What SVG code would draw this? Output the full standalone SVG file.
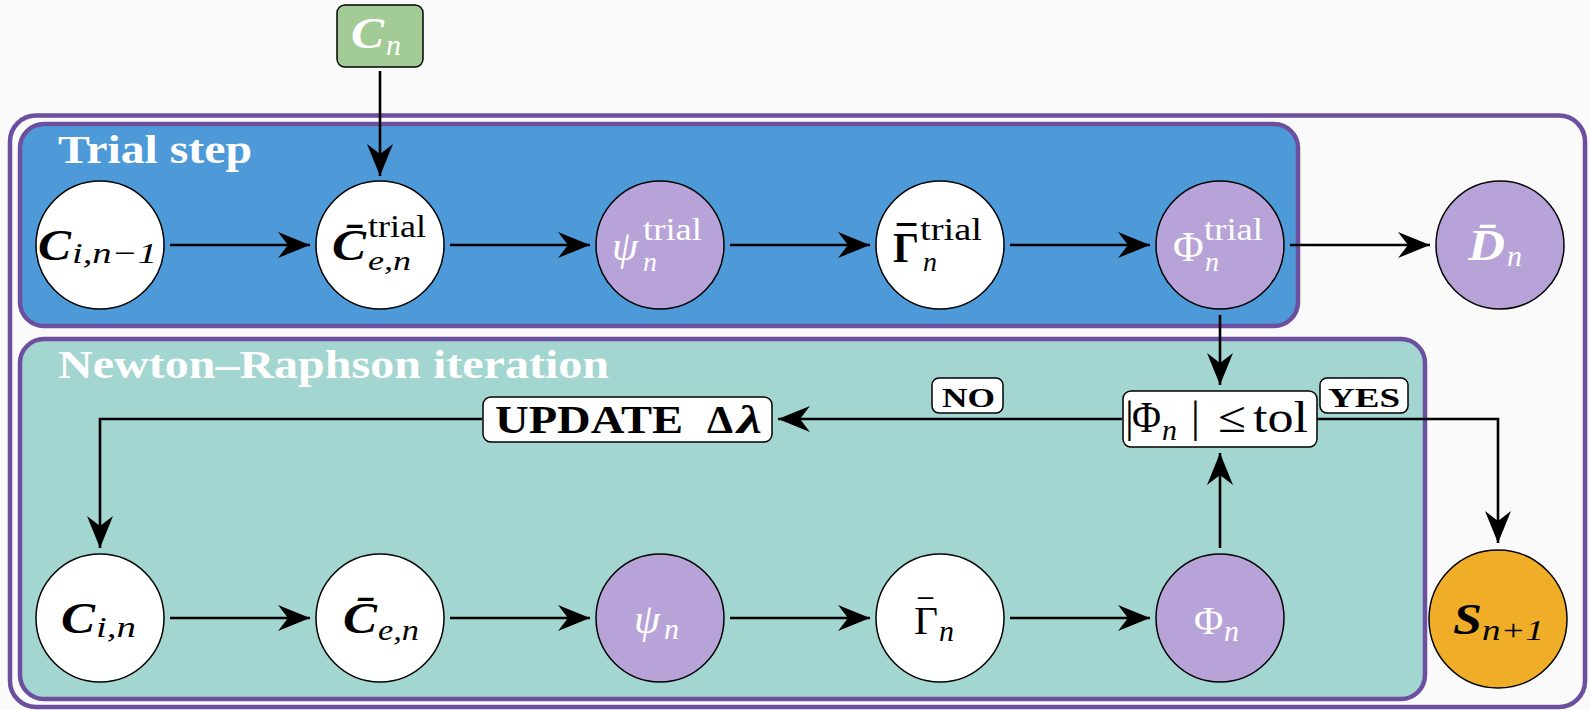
<svg xmlns="http://www.w3.org/2000/svg" width="1590" height="710" viewBox="0 0 1590 710">
<defs>
<marker id="ah" viewBox="-34 -15 36 30" refX="0" refY="0" markerWidth="36" markerHeight="30" markerUnits="userSpaceOnUse" orient="auto">
<path d="M0,0 L-32,-13 L-22,0 L-32,13 Z" fill="#000"/>
</marker>
<style>
.t{font-family:"Liberation Serif","Times New Roman",serif}
.w{fill:#ffffff}
.k{fill:#000000}
.i{font-style:italic}
.b{font-weight:bold}
.node{stroke:#000;stroke-width:1.5}
.white{fill:#ffffff}
.purp{fill:#b7a3d7}
.orange{fill:#f0ae28}
.box{fill:#ffffff;stroke:#000;stroke-width:1.5}
.conn{fill:none;stroke:#000;stroke-width:2.6;marker-end:url(#ah)}
.grp{stroke:#6c4f9f;stroke-width:4.5}
</style>
</defs>
<rect x="0" y="0" width="1590" height="710" fill="#fafafa"/>
<g id="frame">
<rect x="10" y="115.5" width="1575" height="591.5" rx="26" fill="#fafafa" class="grp" stroke-width="5"/>
<rect x="20" y="124" width="1278" height="202" rx="24" fill="#4e9ad8" class="grp"/>
<rect x="20" y="339" width="1405" height="360" rx="24" fill="#a3d6d0" class="grp"/>
<text class="t w b" x="58" y="163" font-size="40" textLength="194" lengthAdjust="spacingAndGlyphs">Trial step</text>
<text class="t w b" x="58" y="378" font-size="40" textLength="551" lengthAdjust="spacingAndGlyphs">Newton–Raphson iteration</text>
</g>
<g id="connectors">
<path class="conn" d="M380,71 V176"/>
<path class="conn" d="M170,245 H310"/>
<path class="conn" d="M450,245 H590"/>
<path class="conn" d="M730,245 H870"/>
<path class="conn" d="M1010,245 H1150"/>
<path class="conn" d="M1290,245 H1430"/>
<path class="conn" d="M1220,315 V385"/>
<path class="conn" d="M1220,548 V453"/>
<path class="conn" d="M1122,419 H778"/>
<path class="conn" d="M482,419 H100 V548"/>
<path class="conn" d="M1317,419 H1498 V543"/>
<path class="conn" d="M170,618 H310"/>
<path class="conn" d="M450,618 H590"/>
<path class="conn" d="M730,618 H870"/>
<path class="conn" d="M1010,618 H1150"/>
</g>
<g id="Cn">
<rect x="337" y="5" width="86" height="62" rx="8" fill="#a3cb96" stroke="#000" stroke-width="1.5"/>
<text class="t w"><tspan class="b i" x="351" y="48" font-size="44" textLength="33" lengthAdjust="spacingAndGlyphs">C</tspan><tspan class="i" x="386" y="55" font-size="30">n</tspan></text>
</g>
<g id="Ci_nm1">
<circle class="node white" cx="100" cy="245" r="64"/>
<text class="t k"><tspan class="b i" x="38" y="260" font-size="44" textLength="33" lengthAdjust="spacingAndGlyphs">C</tspan><tspan class="i" x="72" y="263" font-size="30" textLength="85" lengthAdjust="spacingAndGlyphs">i,n−1</tspan></text>
</g>
<g id="Ce_trial">
<circle class="node white" cx="380" cy="245" r="64"/>
<text class="t k"><tspan class="b i" x="332" y="260" font-size="44" textLength="34" lengthAdjust="spacingAndGlyphs">C̄</tspan><tspan x="368" y="237" font-size="32" textLength="58" lengthAdjust="spacingAndGlyphs">trial</tspan><tspan class="i" x="368" y="270" font-size="28" textLength="43" lengthAdjust="spacingAndGlyphs">e,n</tspan></text>
</g>
<g id="psi_trial">
<circle class="node purp" cx="660" cy="245" r="64"/>
<text class="t w"><tspan class="i" x="612" y="260" font-size="42">ψ</tspan><tspan x="643" y="240" font-size="32" textLength="59" lengthAdjust="spacingAndGlyphs">trial</tspan><tspan class="i" x="643" y="271" font-size="28">n</tspan></text>
</g>
<g id="Gamma_trial">
<circle class="node white" cx="940" cy="245" r="64"/>
<text class="t k"><tspan class="b" x="893" y="262" font-size="42" textLength="26" lengthAdjust="spacingAndGlyphs">Γ</tspan><tspan class="b" x="897" y="255" font-size="42" textLength="19" lengthAdjust="spacingAndGlyphs">¯</tspan><tspan x="920" y="240" font-size="32" textLength="62" lengthAdjust="spacingAndGlyphs">trial</tspan><tspan class="i" x="923" y="271" font-size="28">n</tspan></text>
</g>
<g id="Phi_trial">
<circle class="node purp" cx="1220" cy="245" r="64"/>
<text class="t w"><tspan x="1173" y="261" font-size="42">Φ</tspan><tspan x="1204" y="240" font-size="32" textLength="59" lengthAdjust="spacingAndGlyphs">trial</tspan><tspan class="i" x="1205" y="271" font-size="28">n</tspan></text>
</g>
<g id="D_n">
<circle class="node purp" cx="1500" cy="245" r="64"/>
<text class="t w"><tspan class="b i" x="1468" y="260" font-size="44" textLength="37" lengthAdjust="spacingAndGlyphs">D̄</tspan><tspan class="i" x="1507" y="266" font-size="30">n</tspan></text>
</g>
<g id="check">
<rect class="box" x="1123" y="391" width="194" height="56" rx="8"/>
<text class="t k" font-size="44"><tspan x="1125" y="432">|</tspan><tspan x="1132" y="432" textLength="29" lengthAdjust="spacingAndGlyphs">Φ</tspan><tspan class="i" x="1162" y="440" font-size="30">n</tspan><tspan x="1191" y="432">|</tspan><tspan x="1218" y="432" textLength="28" lengthAdjust="spacingAndGlyphs">≤</tspan><tspan x="1253" y="432" textLength="55" lengthAdjust="spacingAndGlyphs">tol</tspan></text>
</g>
<g id="update">
<rect class="box" x="483" y="397" width="289" height="45" rx="8"/>
<text class="t k b" font-size="40"><tspan x="495" y="433" textLength="188" lengthAdjust="spacingAndGlyphs">UPDATE</tspan><tspan x="707" y="433" textLength="26" lengthAdjust="spacingAndGlyphs">Δ</tspan><tspan class="i" x="737" y="433" textLength="25" lengthAdjust="spacingAndGlyphs">λ</tspan></text>
</g>
<g id="no">
<rect class="box" x="932" y="378" width="71" height="35" rx="7"/>
<text class="t k b" x="942" y="407" font-size="28" textLength="53" lengthAdjust="spacingAndGlyphs">NO</text>
</g>
<g id="yes">
<rect class="box" x="1320" y="378" width="88" height="35" rx="7"/>
<text class="t k b" x="1328" y="407" font-size="28" textLength="72" lengthAdjust="spacingAndGlyphs">YES</text>
</g>
<g id="Ci_n">
<circle class="node white" cx="100" cy="618" r="64"/>
<text class="t k"><tspan class="b i" x="61" y="633" font-size="44" textLength="34" lengthAdjust="spacingAndGlyphs">C</tspan><tspan class="i" x="96" y="637" font-size="30" textLength="40" lengthAdjust="spacingAndGlyphs">i,n</tspan></text>
</g>
<g id="Ce_n">
<circle class="node white" cx="380" cy="618" r="64"/>
<text class="t k"><tspan class="b i" x="343" y="633" font-size="44" textLength="34" lengthAdjust="spacingAndGlyphs">C̄</tspan><tspan class="i" x="378" y="640" font-size="30" textLength="41" lengthAdjust="spacingAndGlyphs">e,n</tspan></text>
</g>
<g id="psi_n">
<circle class="node purp" cx="660" cy="618" r="64"/>
<text class="t w"><tspan class="i" x="634" y="633" font-size="42">ψ</tspan><tspan class="i" x="664" y="639" font-size="30">n</tspan></text>
</g>
<g id="Gamma_n">
<circle class="node white" cx="940" cy="618" r="64"/>
<text class="t k"><tspan x="914" y="634" font-size="40" textLength="24" lengthAdjust="spacingAndGlyphs">Γ</tspan><tspan x="918" y="628" font-size="40" textLength="15" lengthAdjust="spacingAndGlyphs">¯</tspan><tspan class="i" x="939" y="641" font-size="30">n</tspan></text>
</g>
<g id="Phi_n">
<circle class="node purp" cx="1220" cy="618" r="64"/>
<text class="t w"><tspan x="1194" y="634" font-size="40">Φ</tspan><tspan class="i" x="1224" y="641" font-size="30">n</tspan></text>
</g>
<g id="S_np1">
<circle class="node orange" cx="1498" cy="619" r="69"/>
<text class="t k"><tspan class="b i" x="1453" y="634" font-size="44" textLength="29" lengthAdjust="spacingAndGlyphs">S</tspan><tspan class="i" x="1482" y="640" font-size="30" textLength="62" lengthAdjust="spacingAndGlyphs">n+1</tspan></text>
</g>
</svg>
